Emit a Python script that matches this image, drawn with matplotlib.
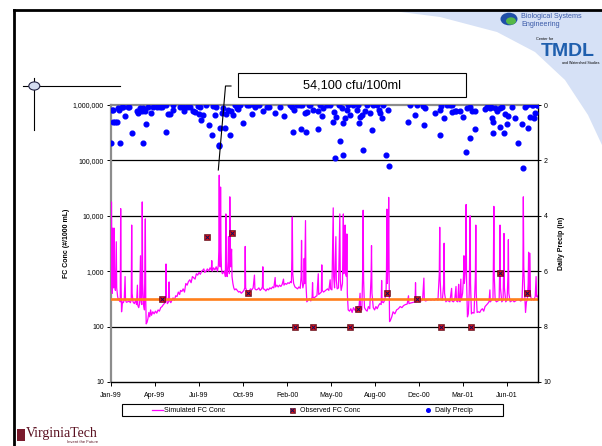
import numpy as np
import matplotlib
matplotlib.use("Agg")
import matplotlib.pyplot as plt
import matplotlib.dates as mdates
from matplotlib.lines import Line2D
from matplotlib.patches import Polygon, Rectangle, Circle

plt.rcParams['font.family'] = ['Liberation Sans', 'DejaVu Sans']

# ---------------- data ----------------
start_date = np.datetime64('1999-01-01')

sim_day = [0, 1, 2, 3, 4, 5, 6, 7, 8, 10, 12, 13, 15, 17, 19, 21, 22, 23, 24, 26, 28, 30, 32, 33, 35, 38, 41, 44, 46, 47,
           48, 50, 53, 56, 58, 60, 61, 63, 65, 67, 68, 70, 71, 72, 74, 76, 78, 79, 80, 82, 84, 86, 88, 90, 92, 95, 98,
           101, 104, 107, 110, 113, 116, 119, 122, 124, 125, 126, 128, 131, 132, 133, 136, 139, 141, 144, 147, 150,
           153, 156, 158, 161, 164, 167, 170, 173, 176, 179, 182, 185, 188, 191, 194, 197, 200, 203, 206, 209, 211,
           213, 216, 219, 222, 225, 228, 229, 230, 233, 236, 239, 242, 244, 245, 246, 247, 248, 249, 250, 251, 253,
           256, 258, 260, 261, 262, 264, 266, 267, 268, 269, 270, 271, 272, 274, 275, 277, 279, 281, 284, 287, 290,
           293, 296, 299, 302, 304, 305, 306, 308, 311, 314, 317, 320, 323, 326, 327, 330, 333, 336, 339, 342, 344,
           345, 346, 349, 352, 355, 358, 361, 364, 367, 370, 373, 374, 377, 380, 383, 386, 389, 392, 393, 396, 399,
           402, 405, 408, 410, 411, 412, 413, 415, 418, 421, 424, 427, 430, 432, 433, 434, 436, 438, 439, 440, 442,
           443, 445, 448, 451, 454, 457, 458, 459, 462, 465, 468, 471, 472, 475, 478, 479, 480, 483, 486, 489, 492,
           495, 498, 499, 502, 505, 506, 508, 511, 512, 514, 517, 520, 521, 523, 526, 528, 529, 531, 532, 533, 535,
           536, 537, 539, 542, 545, 548, 551, 554, 557, 560, 563, 566, 567, 570, 572, 573, 574, 576, 579, 582, 585,
           588, 591, 592, 593, 596, 599, 602, 605, 608, 611, 614, 615, 616, 619, 622, 625, 626, 627, 628, 630, 631,
           632, 633, 635, 638, 641, 645, 649, 653, 657, 661, 665, 669, 673, 676, 677, 680, 684, 688, 691, 692, 693,
           696, 700, 704, 708, 711, 712, 715, 719, 723, 727, 731, 735, 739, 743, 746, 747, 748, 750, 753, 756, 757,
           758, 761, 764, 767, 770, 774, 775, 778, 781, 784, 785, 788, 790, 791, 793, 795, 796, 799, 801, 802, 803,
           806, 807, 808, 810, 812, 814, 816, 817, 819, 822, 825, 828, 829, 830, 832, 835, 838, 841, 844, 847, 850,
           853, 856, 859, 861, 862, 865, 868, 869, 870, 871, 873, 876, 879, 882, 883, 884, 885, 888, 891, 892, 893,
           894, 897, 900, 902, 903, 904, 907, 910, 913, 916, 919, 922, 925, 928, 931, 934, 936, 937, 938, 940, 942,
           944, 946, 948, 949, 950, 952, 953, 955, 958, 961, 964, 966, 967, 969, 971]
sim_fc = [520, 17800, 1200, 400, 6000, 700, 500, 6000, 600, 450, 3400, 500, 350, 300, 320, 280, 13500, 500, 185, 280,
          270, 300, 800, 300, 275, 280, 290, 270, 300, 6800,
          400, 280, 260, 300, 250, 560, 240, 220, 260, 1900, 300, 250, 17800, 600, 250, 200, 8800, 300, 112, 120, 140,
          180, 150, 200, 160, 185, 170,
          190, 175, 200, 190, 220, 230, 250, 265, 280, 1350, 350, 260, 280, 640, 300, 270, 310, 330, 300, 360, 350,
          420, 380, 450, 430, 480, 420, 600, 560, 650, 700, 620, 800, 760, 720, 900, 850, 950, 880, 1000, 1050, 1100,
          950, 1000, 1100, 1000, 1150, 1050, 1550, 1000, 1150, 1050, 1200, 1000, 1300, 2300, 54100, 2000, 1200, 33000,
          2300, 1100, 900,
          950, 1000, 800, 10800, 900, 800, 1500, 4200, 1500, 900, 22000, 3000, 1200, 2500, 800, 600, 500, 460, 480,
          450, 420,
          430, 400, 420, 450, 500, 2800, 500, 450, 420, 440, 480, 460, 500, 850, 480, 460, 470, 500, 450, 480, 520,
          1200, 480, 470, 440, 480, 460, 500, 480, 520, 500, 770, 520, 560, 520, 560, 530, 580, 720, 560, 600, 580,
          620, 600, 650, 620, 1800, 9500, 900, 600, 520, 500, 480, 520, 490, 800, 3600, 700, 500, 600, 1700, 600, 8200,
          600, 280, 300, 320, 290, 340, 620, 340, 330, 350, 360, 900, 380, 400, 420, 1300, 450, 420, 440, 460, 480,
          450, 700, 480, 460, 13900, 800, 500, 4200, 700, 480, 500, 10800, 700, 450, 600, 10800, 900, 1500, 6800, 900,
          800,
          4700, 400, 200, 190, 210, 180, 220, 200, 190, 230, 200, 400, 210, 200, 1000, 12600, 700, 220, 200, 190, 230,
          210, 800, 2900, 400, 220, 200, 230, 210, 240, 260, 250, 680, 280, 270, 300, 420, 1000, 13200, 600, 2000,
          21500,
          800, 123, 130, 150, 185, 170, 200, 210, 230, 220, 240, 250, 255, 360, 260, 265, 270, 275, 280, 620, 280,
          290, 285, 290, 300, 750, 300, 290, 300, 310, 300, 310, 300, 320, 300, 900, 6200, 700, 310, 300, 600, 3200,
          400, 280, 300, 290, 280, 490, 290, 280, 300, 530, 290, 280, 580, 300, 280, 720, 300, 400, 800, 1900, 600,
          1200, 16000, 700, 150, 170, 400, 10000, 600, 170, 180, 175, 800, 6800, 400, 180, 185, 180, 200, 210, 190,
          230,
          245, 260, 280, 460, 280, 300, 320, 1500, 14800, 800, 300, 280, 290, 300, 800, 6800, 500, 280, 300, 900, 4800,
          500, 280, 300, 800, 3700, 400, 280, 290, 300, 280, 290, 300, 310, 300, 290, 300, 920, 22000, 1200, 400, 180,
          280, 300, 600, 2200, 400, 2100, 400, 300, 320, 300, 350, 800, 350, 340, 370]

obs_day = [115, 219, 276, 312, 419, 460, 542, 562, 627, 696, 751, 817, 883, 946]
obs_fc = [310, 4100, 4800, 400, 100, 100, 100, 205, 400, 310, 100, 100, 920, 400]

precip_day = [0, 2, 4, 5, 9, 13, 17, 19, 20, 24, 28, 32, 39, 41, 47, 58, 62, 66, 70, 72, 73, 77, 80, 85, 90, 96, 104,
              111, 115, 124, 125, 130, 134, 140, 142, 157, 163, 166, 172, 180, 187, 191, 198, 201, 202, 204, 208, 217,
              223, 229, 231, 234, 236, 239, 245, 246, 248, 252, 255, 259, 261, 267, 270, 273, 278, 282, 286, 289, 293,
              299, 308, 314, 320, 325, 327, 337, 346, 354, 358, 373, 383, 392, 407, 411, 414, 416, 422, 430,
              432, 433, 441, 443, 445, 449, 452, 458, 470, 471, 475, 479, 481, 490, 498, 505, 507, 509, 511, 517, 520,
              524, 527, 528, 532, 536, 539, 543, 551, 559, 562, 563, 566, 570, 573, 577, 581, 589, 592, 596, 604, 608,
              611, 615, 619, 625, 630, 632, 676, 680, 691, 695, 710, 711, 714, 736, 747, 748, 751, 757, 763, 770, 774,
              776, 782, 785, 793, 801, 807, 808, 815, 816, 820, 827, 828, 850, 854, 861, 864, 865, 867, 869, 873, 877,
              883, 884, 888, 893, 895, 899, 903, 911, 918, 926, 933, 937, 941, 945, 948, 952, 956, 960, 962, 964, 967,
              969]
precip_in = [1.38, 0.18, 0.18, 0.6, 0.6, 0.6, 0.12, 0.18, 1.38, 0.08, 0.08, 0.4, 0.08, 0.08, 1.0, 0.2, 0.3, 0.12,
             0.2, 1.38, 0.12, 0.2, 0.69, 0.08, 0.3, 0.08, 0.08,
             0.08, 0.08, 0.99, 0.0, 0.32, 0.32, 0.18, 0.0, 0.08, 0.08, 0.2, 0.08, 0.08, 0.2, 0.24, 0.04, 0.32, 0.08,
             0.54, 0.36, 0.0,
             0.72, 1.08, 0.04, 0.0, 0.36, 0.08, 1.44, 1.48, 0.84, 0.28, 0.12, 0.84, 0.32, 0.18, 1.08, 0.2, 0.36, 0.0,
             0.12, 0.16, 0.0,
             0.66, 0.0, 0.0, 0.32, 0.0, 0.08, 0.0, 0.2, 0.08, 0.08, 0.3, 0.08, 0.4, 0.0, 0.08, 0.96, 0.18, 0.0, 0.0,
             0.87, 0.0, 0.3, 0.96, 0.24, 0.0, 0.0, 0.18, 0.88, 0.2, 0.0, 0.4, 0.12, 0.0, 0.0, 0.6, 0.24, 1.93, 0.42,
             0.0, 1.29,
             0.12, 1.8, 0.66, 0.48, 0.18, 0.0, 0.36, 0.0, 0.18, 0.0, 0.66, 0.42, 0.36, 1.62, 0.2, 0.0, 0.3, 0.9, 0.0,
             0.0, 0.18,
             0.3, 0.48, 0.0, 1.8, 0.18, 2.2, 0.6, 0.0, 0.36, 0.0, 0.04, 0.72, 0.12, 0.3, 1.08, 0.18, 0.04, 0.48, 0.0,
             0.0, 0.24,
             0.0, 0.2, 0.2, 0.2, 0.42, 1.68, 0.12, 0.08, 1.2, 0.2, 0.88, 0.2, 0.16, 0.06, 0.12, 0.06, 0.48, 0.6, 1.0,
             0.12, 0.2,
             0.78, 0.12, 0.06, 1.0, 0.32, 0.69, 0.4, 0.08, 0.48, 1.38, 0.69, 2.29, 0.06, 0.0, 0.84, 0.42, 0.0, 0.0,
             0.48, 0.3, 0.0,
             0.0]

fc_ticks = [10, 100, 1000, 10000, 100000, 1000000]
fc_tick_labels = ['10', '100', '1,000', '10,000', '100,000', '1,000,000']
precip_ticks = [0, 2, 4, 6, 8, 10]
standard_fc = 310
peak_label = '54,100 cfu/100ml'
legend_labels = ['Simulated FC Conc', 'Observed FC Conc', 'Daily Precip']
x_end_day = 971
tick_step_days = 100

# ---------------- figure ----------------
W, H = 602, 446
fig = plt.figure(figsize=(W / 100, H / 100), dpi=100)


def fx(x):
    return x / W


def fy(y):
    return 1 - y / H


def fline(xs, ys, **kw):
    fig.add_artist(Line2D([fx(v) for v in xs], [fy(v) for v in ys], transform=fig.transFigure, **kw))


# slide decoration: light blue swoosh top-right
sw = [(385, 10), (440, 17), (497, 32), (535, 52), (565, 80), (588, 115), (602, 145), (602, 10)]
fig.add_artist(Polygon([(fx(a), fy(b)) for a, b in sw], closed=True, transform=fig.transFigure,
                       facecolor='#d6e1f6', edgecolor='none', zorder=0))
# slide frame
fline([13.5, 13.5], [10, 446], color='black', lw=2.0)
fline([13.5, 602], [10, 10], color='black', lw=2.0)

# crosshair symbol
fline([23, 120], [86, 86], color='black', lw=0.8)
fline([34.3, 34.3], [78, 130], color='black', lw=0.8)
fig.add_artist(Circle((fx(34.3), fy(86)), 5.5 / W, transform=fig.transFigure, facecolor='#d3dbef',
                      edgecolor='#222244', lw=0.8, zorder=5))

# logos (text approximations)
fig.add_artist(Circle((fx(509), fy(19)), 8.5 / W, transform=fig.transFigure, facecolor='#1f4fa8', edgecolor='none'))
fig.add_artist(Circle((fx(511), fy(21)), 5 / W, transform=fig.transFigure, facecolor='#55b848', edgecolor='none'))
fig.text(fx(521), fy(16), 'Biological Systems', fontsize=5.2, color='#3a5aa8', va='center', ha='left')
fig.text(fx(521), fy(24), 'Engineering', fontsize=5.2, color='#3a5aa8', va='center', ha='left')
fig.text(fx(536), fy(39), 'Center for', fontsize=2.8, color='black', va='center', ha='left')
fig.text(fx(568), fy(52), 'TMDL', fontsize=14, fontweight='bold', color='#1f5fae', va='center', ha='center')
fig.text(fx(599), fy(63), 'and Watershed Studies', fontsize=2.6, color='black', va='center', ha='right')

fig.add_artist(Rectangle((fx(17), fy(441)), 8 / W, 12 / H, transform=fig.transFigure, facecolor='#7a1a2c',
                         edgecolor='none'))
fig.text(fx(26), fy(434), 'VirginiaTech', fontsize=10, family=['Liberation Serif', 'DejaVu Serif'],
         color='#5a1020', va='center', ha='left')
fig.text(fx(98), fy(442), 'Invent the Future', fontsize=3, color='#5a1020', va='center', ha='right')

# ---------------- axes ----------------
left, right, top, bottom = 111, 538.3, 105, 382
ax = fig.add_axes([fx(left), fy(bottom), (right - left) / W, (bottom - top) / H])
ax.set_facecolor('none')

sim_dates = start_date + np.array(sim_day).astype('timedelta64[D]')
obs_dates = start_date + np.array(obs_day).astype('timedelta64[D]')
precip_dates = start_date + np.array(precip_day).astype('timedelta64[D]')
end_date = start_date + np.timedelta64(x_end_day, 'D')

ax.set_yscale('log')
ax.set_ylim(10, 1000000)
ax.set_xlim(start_date, end_date)

for t in fc_ticks[1:-1]:
    ax.axhline(t, color='black', lw=0.9, zorder=1)

sim_style = dict(color='#ff00ff', lw=0.9)
sq_style = dict(linestyle='none', marker='s', ms=4.2, mfc='#dd1111', mec='#400010', mew=0.4)
x_style = dict(linestyle='none', marker='x', ms=3.0, mec='#101060', mew=0.7)
dot_style = dict(linestyle='none', marker='o', color='#0000ff', mec='#0000ff')

ax.plot(sim_dates, sim_fc, zorder=3, **sim_style)
ax.axhline(standard_fc, color='#ff7f1a', lw=1.9, zorder=4)
ax.plot(obs_dates, obs_fc, zorder=6, **sq_style)
ax.plot(obs_dates, obs_fc, zorder=7, **x_style)

ax.set_yticks(fc_ticks)
ax.set_yticklabels(fc_tick_labels)
ax.yaxis.set_minor_locator(matplotlib.ticker.NullLocator())
xt = [start_date + np.timedelta64(k * tick_step_days, 'D') for k in range(10)]
ax.set_xticks(xt)
ax.xaxis.set_major_formatter(mdates.DateFormatter('%b-%y'))
ax.tick_params(axis='both', labelsize=5, length=3, width=0.7, pad=2, colors='black')
ax.tick_params(axis='x', pad=4)

for s in ['top', 'left']:
    ax.spines[s].set_color('#8c8c8c')
    ax.spines[s].set_linewidth(1.6)
ax.spines['bottom'].set_color('black')
ax.spines['bottom'].set_linewidth(1.0)
ax.spines['right'].set_visible(False)

ax.set_ylabel('FC Conc (#/1000 mL)', fontsize=5, fontweight='bold')
ax.yaxis.set_label_coords((70 - left) / (right - left), 0.5)

ax2 = ax.twinx()
ax2.set_ylim(10, 0)
ax2.set_xlim(start_date, end_date)
ax2.plot(precip_dates, precip_in, ms=3.4, zorder=5, **dot_style)
ax2.set_yticks(precip_ticks)
ax2.tick_params(axis='y', labelsize=5, length=4, width=0.7, direction='inout', pad=2)
for s in ['top', 'left', 'bottom']:
    ax2.spines[s].set_visible(False)
ax2.spines['right'].set_color('black')
ax2.spines['right'].set_linewidth(1.0)
ax2.set_ylabel('Daily Precip (in)', fontsize=5, fontweight='bold')
ax2.yaxis.set_label_coords((558 - left) / (right - left), 0.5)

# peak callout
fline([218.3, 225.5, 231], [170, 86, 86], color='black', lw=0.8)
fig.add_artist(Rectangle((fx(238), fy(97)), (466 - 238) / W, (97 - 73) / H, transform=fig.transFigure,
                         facecolor='white', edgecolor='black', lw=0.8))
fig.text(fx(352), fy(85.5), peak_label, fontsize=9.2, ha='center', va='center')

# legend (drawn as a framed key row)
ly = 410
fig.add_artist(Rectangle((fx(122), fy(416)), (503 - 122) / W, 12.5 / H, transform=fig.transFigure,
                         facecolor='white', edgecolor='black', lw=0.8))
fline([152, 163], [ly, ly], **sim_style)
fline([292], [ly], **{**sq_style, 'ms': 3.6})
fline([292], [ly], **{**x_style, 'ms': 2.6})
fline([428], [ly], ms=2.6, **dot_style)
for xpos, lab in zip([164, 300, 435], legend_labels):
    fig.text(fx(xpos), fy(ly), lab, fontsize=5, ha='left', va='center')

fig.savefig('out.png', dpi=100)
